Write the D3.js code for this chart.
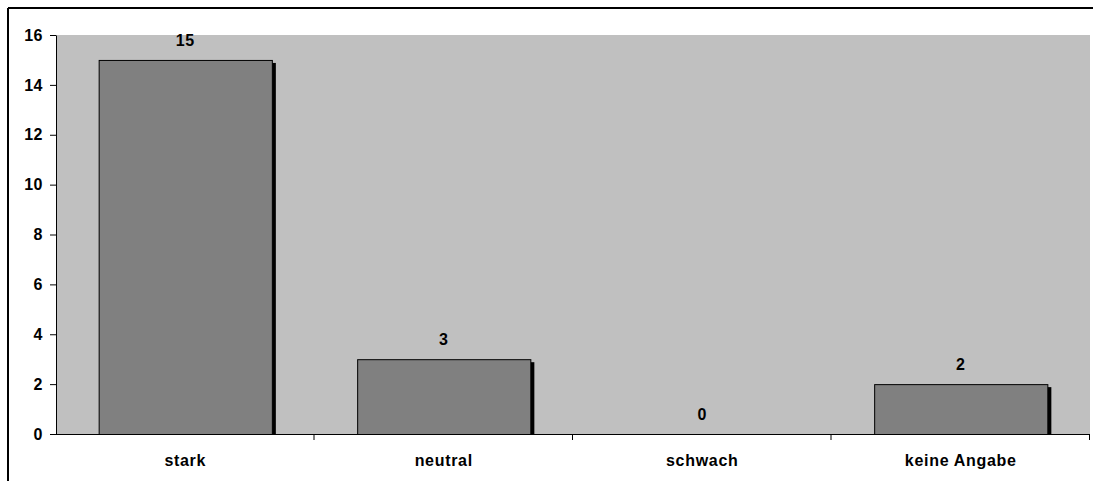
<!DOCTYPE html>
<html>
<head>
<meta charset="utf-8">
<script src="https://cdn.jsdelivr.net/npm/d3@7"></script>
<style>
  body { margin: 0; background: #fff; }
  text { font-family: "Liberation Sans", Arial, sans-serif; font-weight: bold; }
</style>
</head>
<body>
<div id="chart"></div>
<script>
var categories = ["stark", "neutral", "schwach", "keine Angabe"];
var values = [15, 3, 0, 2];
var yTicks = [0, 2, 4, 6, 8, 10, 12, 14, 16];

var svgWidth = 1093;
var svgHeight = 481;
var margin = {top: 35, right: 3, bottom: 47, left: 56};
var width = svgWidth - margin.left - margin.right;
var height = svgHeight - margin.top - margin.bottom;
var fontSize = "16px";

var svg = d3.select("#chart").append("svg")
    .attr("width", svgWidth)
    .attr("height", svgHeight);

// outer frame
svg.append("line").attr("x1", 8).attr("x2", 8).attr("y1", 8).attr("y2", svgHeight)
    .attr("stroke", "#000").attr("stroke-width", 2);
svg.append("line").attr("x1", 8).attr("x2", svgWidth).attr("y1", 8).attr("y2", 8)
    .attr("stroke", "#000").attr("stroke-width", 2);

var chart = svg.append("g")
    .attr("transform", "translate(" + margin.left + "," + margin.top + ")");

var x = d3.scaleBand().domain(categories).range([0, width]).paddingInner(0.33).paddingOuter(0.165);
var xOuter = d3.scaleBand().domain(categories).range([0, width]);
var y = d3.scaleLinear().domain([0, 16]).range([height, 0]);

chart.append("rect")
    .attr("width", width).attr("height", height)
    .attr("fill", "#c0c0c0");

chart.append("clipPath").attr("id", "plotclip")
    .append("rect").attr("width", width).attr("height", height);

var bars = chart.append("g").attr("clip-path", "url(#plotclip)");
var data = values.map(function(v, i) { return {c: categories[i], v: v}; });

// shadows
bars.selectAll("rect.shadow")
    .data(data.filter(function(d) { return d.v > 0; }))
    .enter().append("rect")
    .attr("class", "shadow")
    .attr("x", function(d) { return x(d.c) + 4; })
    .attr("y", function(d) { return y(d.v) + 3; })
    .attr("width", x.bandwidth())
    .attr("height", function(d) { return height - y(d.v); })
    .attr("fill", "#000");

bars.selectAll("rect.bar")
    .data(data.filter(function(d) { return d.v > 0; }))
    .enter().append("rect")
    .attr("class", "bar")
    .attr("x", function(d) { return x(d.c) + 0.5; })
    .attr("y", function(d) { return y(d.v) + 0.5; })
    .attr("width", x.bandwidth())
    .attr("height", function(d) { return height - y(d.v); })
    .attr("fill", "#808080")
    .attr("stroke", "#000")
    .attr("stroke-width", 1);

// value labels
chart.selectAll("text.val")
    .data(data)
    .enter().append("text")
    .attr("class", "val")
    .attr("x", function(d) { return x(d.c) + x.bandwidth() / 2; })
    .attr("y", function(d) { return y(d.v) - 14; })
    .attr("text-anchor", "middle")
    .style("font-size", fontSize)
    .style("letter-spacing", "0.5px")
    .text(function(d) { return d.v; });

// y axis
var leftAxis = d3.axisLeft(y).tickValues(yTicks).tickSize(6).tickPadding(7);
var gy = chart.append("g").call(leftAxis);
gy.select(".domain").attr("stroke", "#000").attr("d", "M0.5," + height + "V0.5");
gy.selectAll("text").style("font-size", fontSize).style("letter-spacing", "0.5px")
    .style("font-family", "Liberation Sans, Arial, sans-serif").attr("fill", "#000");

// x axis
var bottomAxis = d3.axisBottom(xOuter).tickSize(0).tickPadding(21);
var gx = chart.append("g").attr("transform", "translate(0," + height + ")").call(bottomAxis);
gx.select(".domain").attr("stroke", "#000").attr("d", "M0," + 0.5 + "H" + width);
gx.selectAll("text").style("font-size", fontSize).style("letter-spacing", "0.7px")
    .style("font-family", "Liberation Sans, Arial, sans-serif").attr("fill", "#000");
gx.selectAll("line.sep")
    .data(categories)
    .enter().append("line")
    .attr("class", "sep")
    .attr("x1", function(d) { return xOuter(d) + xOuter.bandwidth() - 0.5; })
    .attr("x2", function(d) { return xOuter(d) + xOuter.bandwidth() - 0.5; })
    .attr("y1", 0).attr("y2", 6)
    .attr("stroke", "#000");
</script>
</body>
</html>
